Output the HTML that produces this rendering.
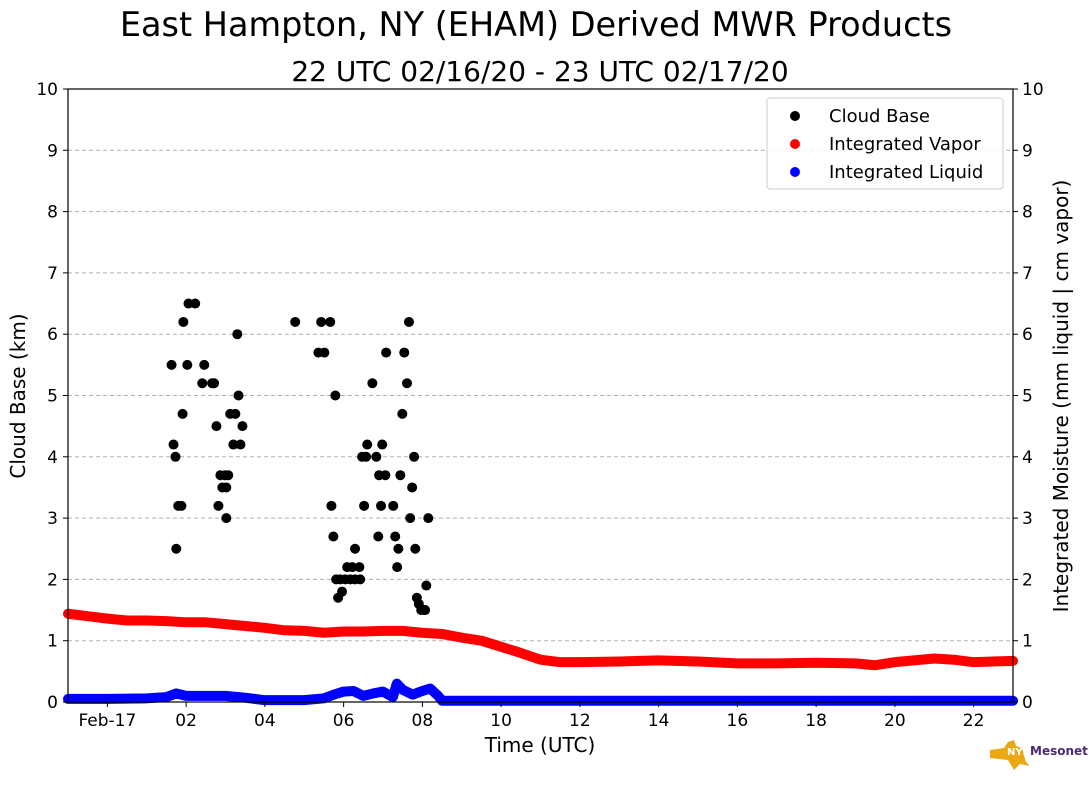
<!DOCTYPE html>
<html><head><meta charset="utf-8"><style>
body{margin:0;background:#fff;font-family:"Liberation Sans",sans-serif}
svg text{font-family:"DejaVu Sans","Liberation Sans",sans-serif}
</style></head><body>
<svg id="c" width="1089" height="804" xmlns="http://www.w3.org/2000/svg">
<text x="536" y="36" font-size="33.5" text-anchor="middle">East Hampton, NY (EHAM) Derived MWR Products</text>
<text x="540" y="81" font-size="28" text-anchor="middle">22 UTC 02/16/20 - 23 UTC 02/17/20</text>
<g id="grid"></g><g id="marks"></g>
<rect x="68" y="89" width="945" height="613" fill="none" stroke="#000" stroke-width="1.2"/>
<g id="axes"></g>
<text x="540" y="752" font-size="20" text-anchor="middle">Time (UTC)</text>
<text transform="translate(25,396) rotate(-90)" font-size="20" text-anchor="middle">Cloud Base (km)</text>
<text transform="translate(1068,396) rotate(-90)" font-size="20" text-anchor="middle">Integrated Moisture (mm liquid | cm vapor)</text>
<g>
<rect x="767" y="98" width="236" height="91" rx="3" fill="#fff" fill-opacity="0.85" stroke="#ccc"/>
<circle cx="795" cy="116" r="5" fill="#000"/><text x="829" y="122" font-size="18">Cloud Base</text>
<circle cx="795" cy="144" r="5" fill="red"/><text x="829" y="150" font-size="18">Integrated Vapor</text>
<circle cx="795" cy="172" r="5" fill="blue"/><text x="829" y="178" font-size="18">Integrated Liquid</text>
</g>
<g>
<path d="M990 750 L1004 748 L1008 742 L1014 740 L1016 746 L1022 748 L1026 762 L1030 766 L1020 764 L1014 770 L1008 760 L990 758 Z" fill="#e9a814"/>
<text x="1007" y="755" font-size="10" font-weight="bold" fill="#fff">NYS</text>
<text x="1030" y="755" font-size="12" font-weight="bold" fill="#4b2a6f">Mesonet</text>
</g>
</svg>
<script>
const cbHours=[1.63,1.68,1.73,1.75,1.8,1.88,1.91,1.93,2.06,2.03,2.23,2.41,2.46,2.66,2.71,2.77,2.82,2.87,2.92,2.99,3.02,3.02,3.07,3.12,3.2,3.25,3.3,3.33,3.38,3.43,4.77,5.36,5.43,5.51,5.66,5.79,5.69,5.74,5.81,5.86,5.96,5.91,6.04,6.09,6.17,6.22,6.29,6.29,6.4,6.42,6.47,6.52,6.57,6.6,6.73,6.83,6.88,6.9,6.95,6.98,7.06,7.08,7.26,7.31,7.36,7.39,7.44,7.49,7.54,7.61,7.66,7.69,7.74,7.79,7.82,7.86,7.91,7.97,8.04,8.07,8.1,8.15];
const cbKm=[5.5,4.2,4.0,2.5,3.2,3.2,4.7,6.2,6.5,5.5,6.5,5.2,5.5,5.2,5.2,4.5,3.2,3.7,3.5,3.7,3.5,3.0,3.7,4.7,4.2,4.7,6.0,5.0,4.2,4.5,6.2,5.7,6.2,5.7,6.2,5.0,3.2,2.7,2.0,1.7,1.8,2.0,2.0,2.2,2.0,2.2,2.5,2.0,2.2,2.0,4.0,3.2,4.0,4.2,5.2,4.0,2.7,3.7,3.2,4.2,3.7,5.7,3.2,2.7,2.2,2.5,3.7,4.7,5.7,5.2,6.2,3.0,3.5,4.0,2.5,1.7,1.6,1.5,1.5,1.5,1.9,3.0,3.7];
const vapHours=[-1,-0.5,0,0.5,1,1.5,2,2.5,3,3.5,4,4.5,5,5.5,6,6.5,7,7.5,8,8.5,9,9.5,10,10.5,11,11.5,12,13,14,15,16,17,18,19,19.5,20,21,21.5,22,23];
const vapVals=[1.44,1.40,1.36,1.33,1.33,1.32,1.30,1.30,1.27,1.24,1.21,1.17,1.16,1.13,1.15,1.15,1.16,1.16,1.13,1.11,1.05,1.0,0.90,0.80,0.69,0.65,0.65,0.66,0.68,0.66,0.63,0.63,0.64,0.63,0.60,0.65,0.71,0.69,0.65,0.67];
const liqHours=[-1,0,1,1.5,1.75,2,2.5,3,3.5,4,5,5.5,5.75,6,6.25,6.5,6.75,7,7.25,7.35,7.5,7.75,8,8.2,8.4,8.5,10,12,14,16,18,20,22,23];
const liqVals=[0.05,0.05,0.06,0.08,0.14,0.10,0.10,0.10,0.07,0.03,0.03,0.06,0.12,0.17,0.18,0.10,0.14,0.17,0.08,0.30,0.20,0.12,0.18,0.22,0.10,0.02,0.02,0.02,0.02,0.02,0.02,0.02,0.02,0.02];
const yTicks=[0,1,2,3,4,5,6,7,8,9,10];
const xTickHours=[0,2,4,6,8,10,12,14,16,18,20,22];
const xTickLabels=["Feb-17","02","04","06","08","10","12","14","16","18","20","22"];
const NS="http://www.w3.org/2000/svg";
const X=h=>68+(h+1)/24*945, Y=v=>702-v/10*613;
function mk(t,a,p){const e=document.createElementNS(NS,t);for(const k in a)e.setAttribute(k,a[k]);document.getElementById(p).appendChild(e);return e;}
yTicks.forEach(v=>{
 if(v>0&&v<10){const g=mk('line',{x1:68,x2:1013,y1:Y(v),y2:Y(v),stroke:'#b0b0b0','stroke-dasharray':'4,3'},'grid');
 
 }
 mk('line',{x1:63,x2:68,y1:Y(v),y2:Y(v),stroke:'#000'},'axes');
 mk('line',{x1:1013,x2:1018,y1:Y(v),y2:Y(v),stroke:'#000'},'axes');
 const a=mk('text',{x:58,y:Y(v)+6,'font-size':17,'text-anchor':'end'},'axes');a.textContent=v;
 
 
 const b=mk('text',{x:1022,y:Y(v)+6,'font-size':17},'axes');b.textContent=v;
 
 
});
xTickHours.forEach((h,i)=>{
 mk('line',{x1:X(h),x2:X(h),y1:702,y2:707,stroke:'#000'},'axes');
 const t=mk('text',{x:X(h),y:726,'font-size':17,'text-anchor':'middle'},'axes');t.textContent=xTickLabels[i];
 
 
});
function series(hs,vs,col,name){
 const pl=mk('polyline',{points:hs.map((h,i)=>X(h)+','+Y(vs[i])).join(' '),fill:'none',stroke:col,'stroke-width':10,'stroke-linejoin':'round','stroke-linecap':'round'},'marks');
 
 
}
series(vapHours,vapVals,'red','integrated-vapor-series');
series(liqHours,liqVals,'blue','integrated-liquid-series');
cbHours.forEach((h,i)=>{
 const c=mk('circle',{cx:X(h),cy:Y(cbKm[i]),r:5,fill:'#000'},'marks');
 
 
});
</script>
</body></html>
